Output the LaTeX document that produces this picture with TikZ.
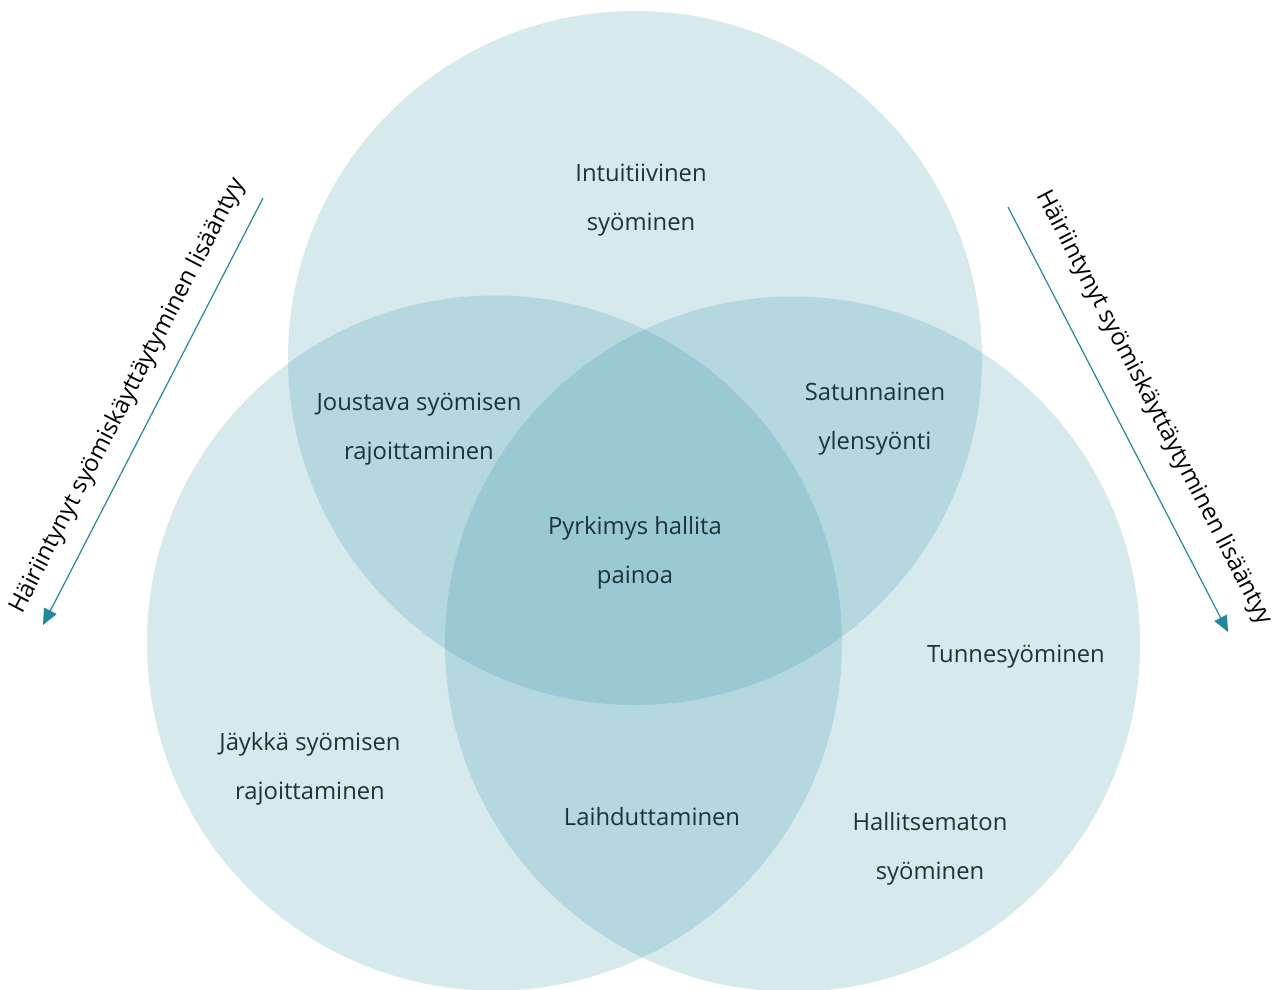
\documentclass[tikz,border=0pt]{standalone}
\usepackage{fontspec}
\setmainfont{Open Sans}
\usetikzlibrary{arrows.meta}
\definecolor{venn}{RGB}{45,142,163}
\definecolor{txt}{RGB}{26,52,58}
\definecolor{arr}{RGB}{35,137,154}
\tikzset{
  circ/.style={fill=venn,fill opacity=0.195,draw=none},
  lab/.style={text=txt,align=center,font=\fontsize{23.8}{49}\selectfont,inner sep=0pt},
  side/.style={text=black,font=\fontsize{23.8}{28}\selectfont,inner sep=0pt},
  axis/.style={draw=arr,line width=1.2pt,-{Triangle[length=16pt,width=14pt]}}
}
\begin{document}
\begin{tikzpicture}[x=1pt,y=-1pt]
\useasboundingbox (0,0) rectangle (1280,989);
\path[circ] (635,358) circle (347);
\path[circ] (494.5,643) circle (347.5);
\path[circ] (792.5,644) circle (347.5);

\node[lab] (intu) at (641,200) {Intuitiivinen\\syöminen};
\node[lab] (jous) at (419,429) {Joustava syömisen\\rajoittaminen};
\node[lab] (satu) at (875,419) {Satunnainen\\ylensyönti};
\node[lab] (pyrk) at (635,553) {Pyrkimys hallita\\painoa};
\node[lab] (tunn) at (1016,657) {Tunnesyöminen};
\node[lab] (jayk) at (310,769) {Jäykkä syömisen\\rajoittaminen};
\node[lab] (laih) at (652,817) {Laihduttaminen};
\node[lab] (hall) at (930,849) {Hallitsematon\\syöminen};

\coordinate (la) at (263,198);
\coordinate (lb) at (43,625);
\draw[axis] (la) -- (lb);
\node[side,rotate=62.7] (ltxt) at (128,396) {Häiriintynyt syömiskäyttäytyminen lisääntyy};

\coordinate (ra) at (1008,207);
\coordinate (rb) at (1228,632);
\draw[axis] (ra) -- (rb);
\node[side,rotate=-62.6] (rtxt) at (1154,408) {Häiriintynyt syömiskäyttäytyminen lisääntyy};
\end{tikzpicture}
\end{document}
